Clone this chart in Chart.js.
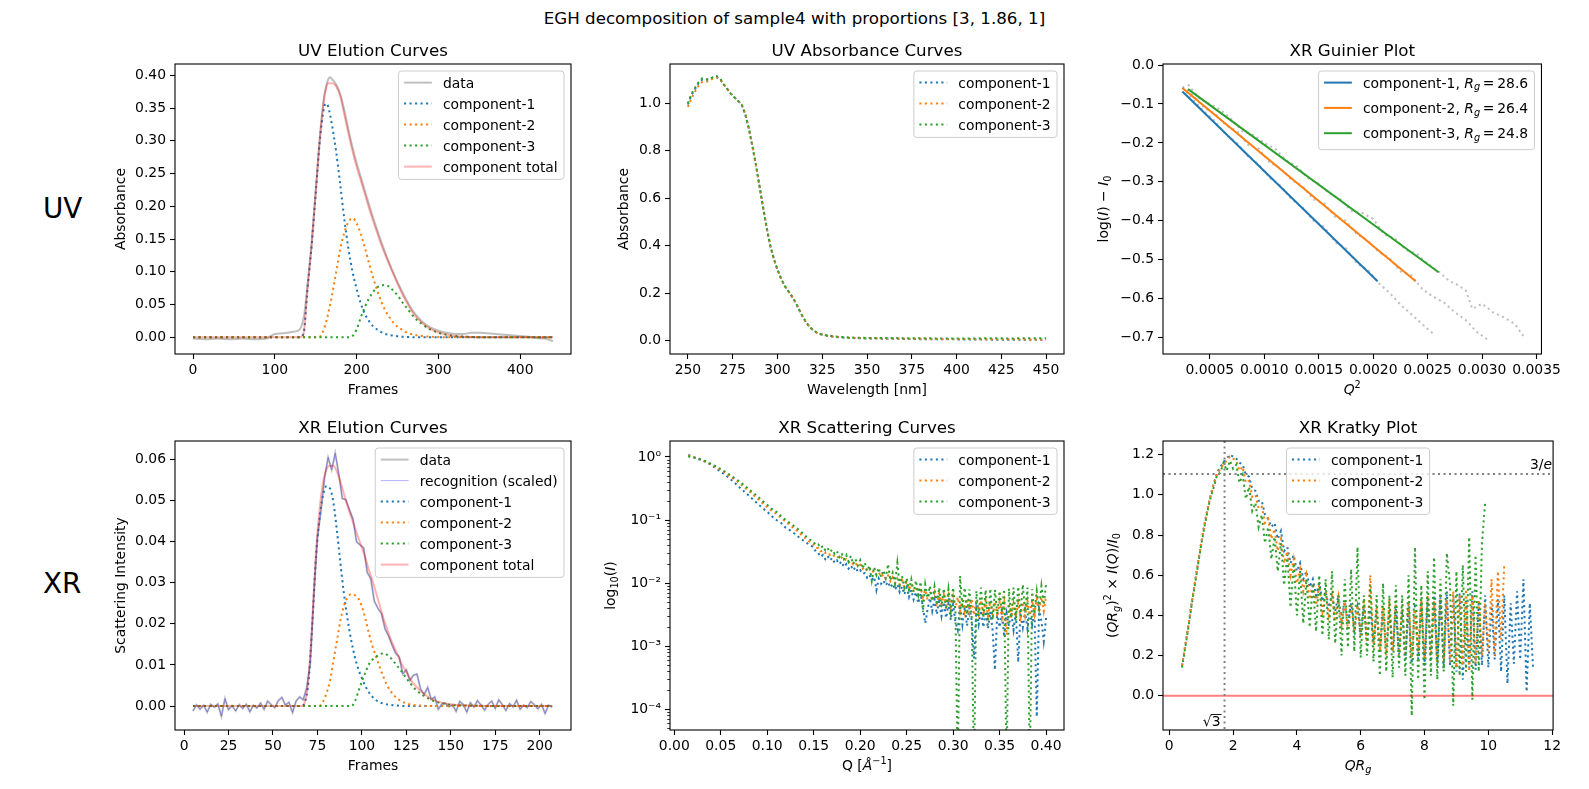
<!DOCTYPE html>
<html>
<head>
<meta charset="utf-8">
<script src="https://cdn.jsdelivr.net/npm/chart.js@4.4.1/dist/chart.umd.min.js"></script>
<style>
html, body { margin: 0; padding: 0; background: #fff; }
body { width: 1589px; height: 789px; position: relative; overflow: hidden; font-family: "DejaVu Sans"; }
canvas { position: absolute; }
.lbl { position: absolute; white-space: nowrap; color: #000; line-height: 1; }
</style>
</head>
<body>
<div class="lbl" style="left:0;width:1589px;text-align:center;top:10px;font-size:16.7px;">EGH decomposition of sample4 with proportions [3, 1.86, 1]</div>
<div class="lbl" style="left:43px;top:195px;font-size:27.8px;">UV</div>
<div class="lbl" style="left:43px;top:570px;font-size:27.8px;">XR</div>
<script>
// ---- UV elution (frames) ----
const uvFrames = [0, 20, 40, 60, 80, 100, 120, 130, 135, 140, 145, 150, 155, 160, 163, 165, 170, 175, 180, 185, 190, 195, 200, 205, 210, 215, 220, 225, 230, 235, 240, 245, 250, 255, 260, 270, 280, 290, 300, 310, 320, 340, 360, 380, 400, 420, 440];
const uvComp1 = [0, 0, 0, 0, 0, 0, 0, 0, 0.005, 0.075, 0.14, 0.22, 0.30, 0.35, 0.357, 0.353, 0.323, 0.283, 0.233, 0.18, 0.135, 0.10, 0.074, 0.052, 0.036, 0.025, 0.017, 0.012, 0.008, 0.005, 0.0035, 0.0025, 0.0015, 0.001, 0.0005, 0.0002, 0, 0, 0, 0, 0, 0, 0, 0, 0, 0, 0];
const uvComp2 = [0, 0, 0, 0, 0, 0, 0, 0, 0, 0, 0, 0, 0.001, 0.012, 0.025, 0.035, 0.065, 0.10, 0.135, 0.16, 0.176, 0.182, 0.174, 0.158, 0.137, 0.114, 0.092, 0.072, 0.055, 0.041, 0.031, 0.022, 0.016, 0.012, 0.008, 0.004, 0.002, 0.001, 0.0003, 0, 0, 0, 0, 0, 0, 0, 0];
const uvComp3 = [0, 0, 0, 0, 0, 0, 0, 0, 0, 0, 0, 0, 0, 0, 0, 0, 0, 0, 0, 0, 0, 0.002, 0.012, 0.03, 0.046, 0.059, 0.069, 0.076, 0.079, 0.08, 0.077, 0.071, 0.064, 0.055, 0.047, 0.031, 0.02, 0.012, 0.007, 0.004, 0.002, 0.0005, 0, 0, 0, 0, 0];
const uvTotal = [0, 0, 0, 0, 0, 0, 0, 0, 0.005, 0.075, 0.14, 0.22, 0.301, 0.362, 0.382, 0.388, 0.388, 0.383, 0.368, 0.34, 0.311, 0.284, 0.26, 0.24, 0.219, 0.198, 0.178, 0.16, 0.142, 0.126, 0.111, 0.096, 0.082, 0.068, 0.056, 0.035, 0.022, 0.013, 0.0073, 0.004, 0.002, 0.0005, 0, 0, 0, 0, 0];
const uvDataFrames = [0, 15, 30, 45, 60, 75, 90, 95, 100, 110, 120, 128, 132, 136, 140, 145, 150, 155, 160, 165, 168, 170, 175, 180, 185, 190, 195, 200, 205, 210, 215, 220, 225, 230, 235, 240, 245, 250, 260, 270, 280, 290, 300, 310, 320, 330, 340, 350, 360, 370, 380, 390, 400, 410, 420, 430, 440];
const uvData = [-0.002, -0.003, -0.002, -0.003, -0.002, -0.003, -0.002, 0.002, 0.005, 0.006, 0.008, 0.01, 0.015, 0.035, 0.08, 0.145, 0.225, 0.305, 0.365, 0.393, 0.397, 0.394, 0.386, 0.371, 0.346, 0.317, 0.29, 0.266, 0.245, 0.224, 0.203, 0.183, 0.164, 0.146, 0.129, 0.113, 0.098, 0.084, 0.059, 0.038, 0.024, 0.015, 0.01, 0.007, 0.005, 0.005, 0.007, 0.007, 0.006, 0.005, 0.004, 0.003, 0.002, 0.001, -0.001, -0.002, -0.006];
const uvElutionXTicks = [0, 100, 200, 300, 400];
const uvElutionXLabels = ['0', '100', '200', '300', '400'];
const uvElutionYTicks = [0, 0.05, 0.10, 0.15, 0.20, 0.25, 0.30, 0.35, 0.40];
const uvElutionYLabels = ['0.00', '0.05', '0.10', '0.15', '0.20', '0.25', '0.30', '0.35', '0.40'];

// ---- UV absorbance (wavelength) ----
const uvWavelengths = [250, 252, 254, 256, 258, 260, 262, 264, 266, 268, 270, 272, 274, 276, 278, 280, 282, 284, 286, 288, 290, 292, 294, 296, 298, 300, 302, 304, 306, 308, 310, 312, 314, 316, 318, 320, 322, 324, 326, 328, 330, 332, 334, 336, 338, 340, 350, 360, 370, 380, 390, 400, 410, 420, 430, 440, 450];
const absComp1 = [0.995, 1.035, 1.06, 1.085, 1.10, 1.10, 1.10, 1.11, 1.11, 1.10, 1.08, 1.06, 1.04, 1.025, 1.01, 0.995, 0.955, 0.895, 0.82, 0.74, 0.65, 0.56, 0.475, 0.40, 0.345, 0.30, 0.262, 0.232, 0.21, 0.188, 0.163, 0.133, 0.103, 0.078, 0.058, 0.044, 0.034, 0.028, 0.024, 0.021, 0.018, 0.016, 0.015, 0.014, 0.013, 0.012, 0.01, 0.009, 0.008, 0.007, 0.007, 0.006, 0.006, 0.005, 0.005, 0.005, 0.004];
const absComp2 = [0.985, 1.02, 1.05, 1.075, 1.09, 1.09, 1.095, 1.105, 1.11, 1.10, 1.08, 1.06, 1.04, 1.025, 1.01, 0.995, 0.955, 0.895, 0.82, 0.74, 0.65, 0.56, 0.475, 0.40, 0.345, 0.30, 0.262, 0.232, 0.21, 0.188, 0.163, 0.133, 0.103, 0.078, 0.058, 0.044, 0.034, 0.028, 0.024, 0.021, 0.019, 0.017, 0.016, 0.015, 0.014, 0.013, 0.011, 0.01, 0.009, 0.009, 0.008, 0.008, 0.007, 0.007, 0.007, 0.006, 0.006];
const absComp3 = [1.0, 1.04, 1.065, 1.09, 1.105, 1.10, 1.10, 1.11, 1.115, 1.105, 1.08, 1.06, 1.04, 1.025, 1.01, 0.995, 0.955, 0.895, 0.82, 0.74, 0.65, 0.56, 0.475, 0.40, 0.345, 0.30, 0.262, 0.232, 0.21, 0.188, 0.163, 0.133, 0.103, 0.078, 0.058, 0.045, 0.035, 0.029, 0.025, 0.022, 0.02, 0.018, 0.017, 0.016, 0.015, 0.014, 0.012, 0.012, 0.011, 0.011, 0.01, 0.01, 0.01, 0.011, 0.01, 0.011, 0.011];
const absXTicks = [250, 275, 300, 325, 350, 375, 400, 425, 450];
const absXLabels = ['250', '275', '300', '325', '350', '375', '400', '425', '450'];
const absYTicks = [0, 0.2, 0.4, 0.6, 0.8, 1.0];
const absYLabels = ['0.0', '0.2', '0.4', '0.6', '0.8', '1.0'];

// ---- XR Guinier (Q^2) ----
const guinierRg = [28.6, 26.4, 24.8];
const fitQ2_1 = [0.000248, 0.00204], fitLog_1 = [-0.068, -0.555];
const fitQ2_2 = [0.000248, 0.00239], fitLog_2 = [-0.059, -0.555];
const fitQ2_3 = [0.0003, 0.0026], fitLog_3 = [-0.062, -0.532];
const gQ2_1 = [0.00025, 0.00035, 0.00045, 0.00055, 0.00065, 0.00075, 0.00085, 0.00095, 0.00105, 0.00115, 0.00125, 0.00135, 0.00145, 0.00155, 0.00165, 0.00175, 0.00185, 0.00195, 0.00205, 0.00215, 0.00225, 0.00235, 0.00245, 0.00255];
const gLog_1 = [-0.058, -0.09, -0.12, -0.145, -0.18, -0.2, -0.235, -0.255, -0.29, -0.31, -0.345, -0.365, -0.4, -0.415, -0.455, -0.47, -0.51, -0.525, -0.56, -0.585, -0.615, -0.64, -0.665, -0.69];
const gQ2_2 = [0.00025, 0.00035, 0.00045, 0.00055, 0.00065, 0.00075, 0.00085, 0.00095, 0.00105, 0.00115, 0.00125, 0.00135, 0.00145, 0.00155, 0.00165, 0.00175, 0.00185, 0.00195, 0.00205, 0.00215, 0.00225, 0.00235, 0.00245, 0.00255, 0.00265, 0.00275, 0.00285, 0.00295, 0.00305];
const gLog_2 = [-0.055, -0.08, -0.11, -0.125, -0.155, -0.17, -0.205, -0.215, -0.25, -0.265, -0.295, -0.31, -0.345, -0.355, -0.39, -0.40, -0.435, -0.45, -0.48, -0.495, -0.53, -0.54, -0.575, -0.595, -0.61, -0.635, -0.655, -0.685, -0.705];
const gQ2_3 = [0.0003, 0.0004, 0.0005, 0.0006, 0.0007, 0.0008, 0.0009, 0.001, 0.0011, 0.0012, 0.0013, 0.0014, 0.0015, 0.0016, 0.0017, 0.0018, 0.0019, 0.002, 0.0021, 0.0022, 0.0023, 0.0024, 0.0025, 0.0026, 0.0027, 0.00276, 0.00285, 0.00291, 0.003, 0.0031, 0.0032, 0.0033, 0.00339];
const gLog_3 = [-0.05, -0.085, -0.1, -0.115, -0.14, -0.17, -0.18, -0.2, -0.215, -0.245, -0.26, -0.29, -0.305, -0.33, -0.345, -0.375, -0.38, -0.395, -0.435, -0.445, -0.475, -0.485, -0.51, -0.53, -0.555, -0.562, -0.579, -0.626, -0.613, -0.635, -0.648, -0.665, -0.70];
const guinierXTicks = [0.0005, 0.0010, 0.0015, 0.0020, 0.0025, 0.0030, 0.0035];
const guinierXLabels = ['0.0005', '0.0010', '0.0015', '0.0020', '0.0025', '0.0030', '0.0035'];
const guinierYTicks = [-0.7, -0.6, -0.5, -0.4, -0.3, -0.2, -0.1, 0.0];
const guinierYLabels = ['\u22120.7', '\u22120.6', '\u22120.5', '\u22120.4', '\u22120.3', '\u22120.2', '\u22120.1', '0.0'];

// ---- XR elution (frames) ----
const xrFrames = [5, 20, 40, 60, 66, 68, 70, 72, 74, 76, 78, 80, 82, 84, 86, 88, 90, 92, 94, 96, 98, 100, 102, 104, 106, 108, 110, 112, 114, 116, 118, 120, 122, 124, 126, 128, 130, 134, 138, 142, 146, 150, 160, 180, 207];
const xrComp1 = [0, 0, 0, 0, 0, 0.001, 0.006, 0.019, 0.035, 0.045, 0.051, 0.0535, 0.053, 0.0495, 0.0425, 0.0345, 0.027, 0.021, 0.016, 0.012, 0.009, 0.0068, 0.0048, 0.0033, 0.0022, 0.0014, 0.0009, 0.0006, 0.0004, 0.0003, 0.0002, 0.0001, 0, 0, 0, 0, 0, 0, 0, 0, 0, 0, 0, 0, 0];
const xrComp2 = [0, 0, 0, 0, 0, 0, 0, 0, 0, 0, 0.001, 0.003, 0.006, 0.011, 0.016, 0.021, 0.0245, 0.0265, 0.0272, 0.027, 0.0262, 0.0242, 0.0212, 0.0176, 0.0145, 0.012, 0.0095, 0.0072, 0.0052, 0.0037, 0.0026, 0.0018, 0.0012, 0.0008, 0.0005, 0.0003, 0.0002, 0.0001, 0, 0, 0, 0, 0, 0, 0];
const xrComp3 = [0, 0, 0, 0, 0, 0, 0, 0, 0, 0, 0, 0, 0, 0, 0, 0, 0, 0, 0, 0.001, 0.0035, 0.006, 0.0082, 0.0102, 0.0113, 0.012, 0.0126, 0.0128, 0.0125, 0.0118, 0.0108, 0.0097, 0.0086, 0.0074, 0.0062, 0.0051, 0.0041, 0.0027, 0.0017, 0.001, 0.0006, 0.0003, 0.0001, 0, 0];
const xrTotal = [0, 0, 0, 0, 0, 0.001, 0.007, 0.02, 0.036, 0.047, 0.054, 0.0575, 0.0585, 0.0585, 0.057, 0.0545, 0.0515, 0.0485, 0.046, 0.0435, 0.041, 0.0385, 0.036, 0.033, 0.0305, 0.0275, 0.0245, 0.0215, 0.019, 0.0165, 0.0145, 0.0125, 0.0105, 0.009, 0.0075, 0.006, 0.005, 0.0033, 0.002, 0.0012, 0.0007, 0.0004, 0.0001, 0, 0];
const xrDataFrames = [5, 7, 9, 11, 13, 15, 17, 19, 21, 23, 25, 27, 29, 31, 33, 35, 37, 39, 41, 43, 45, 47, 49, 51, 53, 55, 57, 59, 61, 63, 65, 67, 69, 71, 73, 75, 77, 79, 81, 83, 85, 87, 89, 91, 93, 95, 97, 99, 101, 103, 105, 107, 109, 111, 113, 115, 117, 119, 121, 123, 125, 127, 129, 131, 133, 135, 137, 139, 141, 143, 145, 147, 149, 151, 153, 155, 157, 159, 161, 163, 165, 167, 169, 171, 173, 175, 177, 179, 181, 183, 185, 187, 189, 191, 193, 195, 197, 199, 201, 203, 205, 207];
const xrData = [-0.0012, 0.0003, -0.0008, 0.0002, -0.0015, 0.0004, -0.0003, 0.0005, -0.0025, 0.0018,
  -0.0009, 0.0001, -0.0012, 0.0003, -0.0006, 0.0004, -0.0014, 0.0002, -0.0005, 0.0007,
  -0.0008, 0.0012, 0.0003, -0.0004, 0.0013, 0.0021, 0.0002, 0.0009, -0.0016, 0.0012,
  0.0022, 0.0015, 0.0045, 0.0105, 0.027, 0.041, 0.0475, 0.0555, 0.0605, 0.0575,
  0.0615, 0.0565, 0.0505, 0.0502, 0.0478, 0.0455, 0.040, 0.0392, 0.0385, 0.0325,
  0.031, 0.0255, 0.0238, 0.0225, 0.0188, 0.017, 0.0148, 0.0128, 0.012, 0.0078,
  0.0088, 0.0062, 0.0075, 0.0078, 0.0041, 0.0028, 0.0045, 0.0016, 0.0022, -0.0008,
  0.0005, 0.0007, -0.0002, 0.0003, -0.0013, 0.0011, 0.0004, -0.0015, 0.0008, -0.0003,
  0.0013, 0.0002, -0.001, 0.0004, 0.0012, -0.0006, 0.0015, 0.0003, -0.0011, 0.0006,
  -0.0002, 0.0014, -0.0008, 0.0002, -0.0004, 0.0011, 0.0003, -0.0007, 0.0004, -0.0018,
  0.0002, -0.0003];
const xrElutionXTicks = [0, 25, 50, 75, 100, 125, 150, 175, 200];
const xrElutionXLabels = ['0', '25', '50', '75', '100', '125', '150', '175', '200'];
const xrElutionYTicks = [0, 0.01, 0.02, 0.03, 0.04, 0.05, 0.06];
const xrElutionYLabels = ['0.00', '0.01', '0.02', '0.03', '0.04', '0.05', '0.06'];

// ---- XR scattering (Q) ----
const scatQ = [0.015, 0.02, 0.025, 0.03, 0.035, 0.04, 0.045, 0.05, 0.055, 0.06, 0.065, 0.07, 0.075, 0.08, 0.085, 0.09, 0.095, 0.1,
  0.105, 0.11, 0.115, 0.12, 0.125, 0.13, 0.135, 0.14, 0.145,
  0.15, 0.1525, 0.155, 0.1575, 0.16, 0.1625, 0.165, 0.1675, 0.17, 0.1725,
  0.175, 0.1775, 0.18, 0.1825, 0.185, 0.1875, 0.19, 0.1925, 0.195, 0.1975,
  0.2, 0.2025, 0.205, 0.2075, 0.21, 0.2125, 0.215, 0.2175, 0.22, 0.2225,
  0.225, 0.2275, 0.23, 0.2325, 0.235, 0.2375, 0.24, 0.2425, 0.245, 0.2475,
  0.25, 0.2525, 0.255, 0.2575, 0.26, 0.2625, 0.265, 0.2675, 0.27, 0.2725,
  0.275, 0.2775, 0.28, 0.2825, 0.285, 0.2875, 0.29, 0.2925, 0.295, 0.2975,
  0.3, 0.3025, 0.305, 0.3075, 0.31, 0.3125, 0.315, 0.3175, 0.32, 0.3225,
  0.325, 0.3275, 0.33, 0.3325, 0.335, 0.3375, 0.34, 0.3425, 0.345, 0.3475,
  0.35, 0.3525, 0.355, 0.3575, 0.36, 0.3625, 0.365, 0.3675, 0.37, 0.3725,
  0.375, 0.3775, 0.38, 0.3825, 0.385, 0.3875, 0.39, 0.3925, 0.395, 0.3975,
  0.4];
const scatI_1 = [1.08, 1.0, 0.94, 0.88, 0.82, 0.74, 0.66, 0.58, 0.52, 0.45, 0.39, 0.33, 0.285, 0.245, 0.21, 0.18, 0.155, 0.135,
  0.115, 0.1, 0.09, 0.075, 0.068, 0.06, 0.052, 0.046, 0.041,
  0.037, 0.031, 0.030, 0.026, 0.028, 0.024, 0.027, 0.023, 0.025, 0.021,
  0.023, 0.020, 0.022, 0.018, 0.020, 0.017, 0.019, 0.016, 0.018, 0.015,
  0.016, 0.014, 0.0145, 0.0122, 0.0135, 0.0112, 0.0125, 0.0078, 0.0118, 0.0098,
  0.011, 0.0092, 0.0105, 0.0085, 0.0098, 0.0078, 0.0095, 0.0072, 0.0088, 0.0066,
  0.0085, 0.006, 0.0078, 0.0055, 0.0072, 0.0048, 0.0068, 0.0042, 0.0023, 0.0038,
  0.0058, 0.0036, 0.0055, 0.0032, 0.0052, 0.0030, 0.005, 0.0028, 0.0048, 0.0026,
  0.0046, 0.0024, 0.0018, 0.0045, 0.0022, 0.0042, 0.0021, 0.0040, 0.0026, 0.00064,
  0.0038, 0.0022, 0.0037, 0.0020, 0.0036, 0.0019, 0.0035, 0.0018, 0.00042, 0.0034,
  0.0020, 0.0034, 0.0014, 0.0033, 0.0021, 0.0034, 0.0018, 0.0035, 0.00056, 0.0034,
  0.0020, 0.0036, 0.0019, 0.0037, 0.0022, 0.0038, 0.000076, 0.0039, 0.0025, 0.0012,
  0.0028];
const scatI_2 = [1.05, 1.0, 0.95, 0.89, 0.83, 0.76, 0.69, 0.62, 0.56, 0.50, 0.44, 0.385, 0.335, 0.29, 0.25, 0.215, 0.185, 0.16,
  0.14, 0.125, 0.108, 0.094, 0.082, 0.072, 0.062, 0.053, 0.046,
  0.041, 0.036, 0.036, 0.032, 0.033, 0.030, 0.031, 0.028, 0.029, 0.026,
  0.027, 0.024, 0.0255, 0.0228, 0.024, 0.0212, 0.0225, 0.0198, 0.021, 0.0183,
  0.0195, 0.0168, 0.018, 0.0155, 0.0168, 0.0146, 0.0158, 0.0136, 0.0148, 0.0126,
  0.0138, 0.0116, 0.0132, 0.0108, 0.0124, 0.0101, 0.0118, 0.0095, 0.0111, 0.0087,
  0.0104, 0.0079, 0.0097, 0.0072, 0.0090, 0.0066, 0.0084, 0.0060, 0.0078, 0.0055,
  0.0074, 0.0052, 0.0071, 0.0048, 0.0069, 0.0046, 0.0066, 0.0044, 0.0064, 0.0042,
  0.0062, 0.0040, 0.0060, 0.0036, 0.0059, 0.0035, 0.0057, 0.0034, 0.0056, 0.0031,
  0.0055, 0.0033, 0.0054, 0.0031, 0.0053, 0.0030, 0.0052, 0.0029, 0.0051, 0.0029,
  0.0050, 0.0028, 0.0049, 0.0015, 0.0048, 0.0028, 0.0048, 0.0029, 0.0049, 0.0029,
  0.0050, 0.0030, 0.0052, 0.0031, 0.0054, 0.0032, 0.0057, 0.0034, 0.0060, 0.0036,
  0.0062];
const scatI_3 = [1.02, 0.99, 0.95, 0.9, 0.84, 0.77, 0.71, 0.64, 0.58, 0.52, 0.46, 0.41, 0.36, 0.31, 0.27, 0.235, 0.2, 0.175,
  0.15, 0.135, 0.115, 0.1, 0.088, 0.078, 0.068, 0.058, 0.05,
  0.045, 0.040, 0.041, 0.036, 0.039, 0.033, 0.036, 0.031, 0.034, 0.029,
  0.032, 0.026, 0.030, 0.024, 0.028, 0.022, 0.027, 0.020, 0.024, 0.019,
  0.023, 0.017, 0.021, 0.0155, 0.019, 0.011, 0.018, 0.0135, 0.0175, 0.0125,
  0.016, 0.012, 0.020, 0.011, 0.0145, 0.0098, 0.021, 0.0092, 0.013, 0.0085,
  0.012, 0.0078, 0.0115, 0.0072, 0.011, 0.0065, 0.0105, 0.0035, 0.0095, 0.0058,
  0.009, 0.0052, 0.0088, 0.0045, 0.0085, 0.0042, 0.0082, 0.0038, 0.0080, 0.0036,
  0.0085, 0.0035, 0.00001, 0.013, 0.0040, 0.0085, 0.0032, 0.0080, 0.0028, 0.00001,
  0.0075, 0.0030, 0.0085, 0.0028, 0.0078, 0.0022, 0.0082, 0.0026, 0.0078, 0.0032,
  0.0075, 0.0035, 0.0080, 0.00001, 0.0082, 0.0028, 0.0085, 0.0025, 0.0088, 0.0030,
  0.0095, 0.0035, 0.0085, 0.00001, 0.0080, 0.0032, 0.0075, 0.0040, 0.0090, 0.0045,
  0.0098];
const scatXTicks = [0, 0.05, 0.10, 0.15, 0.20, 0.25, 0.30, 0.35, 0.40];
const scatXLabels = ['0.00', '0.05', '0.10', '0.15', '0.20', '0.25', '0.30', '0.35', '0.40'];
const scatYTicks = [1e-4, 1e-3, 1e-2, 1e-1, 1];
const scatYLabels = ['10\u207B\u2074', '10\u207B\u00B3', '10\u207B\u00B2', '10\u207B\u00B9', '10\u2070'];

// ---- XR Kratky (QRg) ----
const kratkyQRg = [0.4, 0.5, 0.6, 0.7, 0.8, 0.9, 1.0, 1.1, 1.2, 1.3, 1.4, 1.5, 1.6, 1.7, 1.8, 1.9,
  2.0, 2.1, 2.2, 2.3, 2.4, 2.5, 2.6, 2.7, 2.8, 2.9, 3.0, 3.1, 3.2, 3.3, 3.4, 3.5, 3.6, 3.7, 3.8, 3.9,
  4.0, 4.1, 4.2, 4.3, 4.4, 4.5, 4.6, 4.7, 4.8, 4.9, 5.0, 5.1, 5.2, 5.3, 5.4, 5.5, 5.6, 5.7, 5.8, 5.9,
  6.0, 6.1, 6.2, 6.3, 6.4, 6.5, 6.6, 6.7, 6.8, 6.9, 7.0, 7.1, 7.2, 7.3, 7.4, 7.5, 7.6, 7.7, 7.8, 7.9,
  8.0, 8.1, 8.2, 8.3, 8.4, 8.5, 8.6, 8.7, 8.8, 8.9, 9.0, 9.1, 9.2, 9.3, 9.4, 9.5, 9.6, 9.7, 9.8, 9.9,
  10.0, 10.1, 10.2, 10.3, 10.4, 10.5, 10.6, 10.7, 10.8, 10.9, 11.0, 11.1, 11.2, 11.3, 11.4];
const kratky_1 = [0.15, 0.25, 0.35, 0.46, 0.56, 0.66, 0.76, 0.85, 0.93, 1.00, 1.06, 1.11, 1.14, 1.16, 1.18, 1.20,
  1.19, 1.18, 1.16, 1.15, 1.10, 1.09, 1.03, 1.02, 0.97, 0.97, 0.90, 0.88, 0.84, 0.86, 0.78, 0.82, 0.72, 0.74, 0.66, 0.70,
  0.62, 0.66, 0.58, 0.62, 0.54, 0.58, 0.50, 0.56, 0.47, 0.52, 0.44, 0.50, 0.42, 0.50, 0.38, 0.47, 0.36, 0.46, 0.33, 0.44,
  0.30, 0.45, 0.28, 0.43, 0.27, 0.42, 0.25, 0.40, 0.24, 0.42, 0.22, 0.44, 0.20, 0.42, 0.18, 0.45, 0.16, 0.46, 0.18, 0.47,
  0.15, 0.48, 0.17, 0.50, 0.16, 0.49, 0.14, 0.52, 0.15, 0.50, 0.12, 0.51, 0.08, 0.48, 0.14, 0.52, 0.13, 0.47, 0.15, 0.50,
  0.14, 0.46, 0.18, 0.48, 0.12, 0.50, 0.06, 0.46, 0.16, 0.52, 0.18, 0.58, 0.02, 0.46, 0.14];
const kratky_2 = [0.15, 0.25, 0.35, 0.46, 0.56, 0.66, 0.76, 0.85, 0.93, 1.00, 1.06, 1.10, 1.13, 1.15, 1.17, 1.19,
  1.18, 1.17, 1.12, 1.14, 1.06, 1.07, 0.99, 1.00, 0.93, 0.94, 0.86, 0.88, 0.78, 0.83, 0.72, 0.78, 0.66, 0.72, 0.60, 0.68,
  0.56, 0.63, 0.52, 0.60, 0.48, 0.56, 0.45, 0.55, 0.42, 0.52, 0.40, 0.50, 0.37, 0.49, 0.35, 0.47, 0.33, 0.46, 0.32, 0.45,
  0.30, 0.48, 0.25, 0.60, 0.24, 0.44, 0.22, 0.45, 0.20, 0.48, 0.22, 0.46, 0.20, 0.45, 0.21, 0.47, 0.19, 0.43, 0.22, 0.48,
  0.18, 0.50, 0.20, 0.47, 0.16, 0.50, 0.18, 0.48, 0.17, 0.52, 0.14, 0.50, 0.15, 0.53, 0.12, 0.50, 0.16, 0.48, 0.20, 0.46,
  0.22, 0.58, 0.20, 0.62, 0.28, 0.66];
const kratky_3 = [0.14, 0.24, 0.34, 0.45, 0.55, 0.65, 0.75, 0.84, 0.92, 0.99, 1.04, 1.10, 1.11, 1.16, 1.12, 1.17,
  1.13, 1.15, 1.06, 1.10, 0.98, 1.04, 0.92, 0.96, 0.84, 0.90, 0.76, 0.84, 0.68, 0.79, 0.62, 0.76, 0.55, 0.70, 0.44, 0.66,
  0.40, 0.62, 0.36, 0.58, 0.34, 0.56, 0.32, 0.60, 0.30, 0.58, 0.28, 0.62, 0.26, 0.50, 0.20, 0.58, 0.24, 0.63, 0.22, 0.74,
  0.19, 0.50, 0.20, 0.55, 0.17, 0.50, 0.10, 0.56, 0.12, 0.50, 0.09, 0.55, 0.14, 0.50, 0.10, 0.60, -0.10, 0.74, 0.08, 0.55,
  -0.02, 0.62, 0.10, 0.69, 0.08, 0.58, 0.12, 0.71, 0.55, -0.05, 0.62, 0.10, 0.65, 0.12, 0.79, -0.02, 0.70, 0.12, 0.76, 0.96];
const kratkyXTicks = [0, 2, 4, 6, 8, 10, 12];
const kratkyXLabels = ['0', '2', '4', '6', '8', '10', '12'];
const kratkyYTicks = [0, 0.2, 0.4, 0.6, 0.8, 1.0, 1.2];
const kratkyYLabels = ['0.0', '0.2', '0.4', '0.6', '0.8', '1.0', '1.2'];
const kratkyPeakX = Math.sqrt(3);
const kratkyPeakY = 3 / Math.E;

// ---------------------------------------------------------------
const C1 = '#1f77b4', C2 = '#ff7f0e', C3 = '#2ca02c';
const GRAY = 'rgba(128,128,128,0.5)', TOTAL = 'rgba(255,0,0,0.3)', RECOG = 'rgba(0,0,255,0.3)';
const DOT = [2.1, 3.4];
const FS = 13.9;
const FONT = '"DejaVu Sans"';

Chart.defaults.font.family = FONT;
Chart.defaults.font.size = FS;
Chart.defaults.color = '#000';

function segFont(style, size) {
  const it = style && style.indexOf('i') >= 0;
  const small = style && (style.indexOf('sub') >= 0 || style.indexOf('sup') >= 0);
  return (it ? 'italic ' : '') + (small ? size * 0.7 : size) + 'px ' + FONT;
}
function richWidth(ctx, segs, size) {
  let w = 0;
  segs.forEach(s => { ctx.font = segFont(s[1], size); w += ctx.measureText(s[0]).width; });
  return w;
}
function drawRich(ctx, segs, x, y, size, align) {
  const w = richWidth(ctx, segs, size);
  let cx = align === 'center' ? x - w / 2 : align === 'right' ? x - w : x;
  ctx.textAlign = 'left';
  ctx.textBaseline = 'alphabetic';
  segs.forEach(s => {
    const st = s[1] || '';
    const dy = st.indexOf('sub') >= 0 ? 0.2 * size : st.indexOf('sup') >= 0 ? -0.4 * size : 0;
    ctx.font = segFont(st, size);
    ctx.fillText(s[0], cx, y + dy);
    cx += ctx.measureText(s[0]).width;
  });
  return w;
}

function drawLegend(ctx, a, leg) {
  ctx.save();
  const labels = leg.items.map(it => typeof it.label === 'string' ? [[it.label]] : it.label);
  const tw = Math.max(...labels.map(l => richWidth(ctx, l, FS)));
  const w = 44.4 + tw + 6.3;
  const n = leg.items.length;
  const row = leg.row || 21;
  const h = 11.6 + (n - 1) * row + (leg.last || 12.8);
  const x = leg.loc === 'center' ? (a.left + a.right) / 2 - w / 2 : a.right - 7 - w;
  const y = a.top + 7;
  ctx.beginPath();
  ctx.roundRect(x, y, w, h, 3);
  ctx.fillStyle = 'rgba(255,255,255,0.8)';
  ctx.fill();
  ctx.strokeStyle = '#cccccc';
  ctx.lineWidth = 1;
  ctx.stroke();
  leg.items.forEach((it, i) => {
    const cy = y + 11.6 + i * row;
    ctx.save();
    ctx.strokeStyle = it.color;
    ctx.lineWidth = it.width;
    ctx.setLineDash(it.dash || []);
    ctx.beginPath();
    ctx.moveTo(x + 5.5, cy);
    ctx.lineTo(x + 33.3, cy);
    ctx.stroke();
    ctx.restore();
    ctx.fillStyle = '#000';
    drawRich(ctx, labels[i], x + 44.4, cy + 5, FS, 'left');
  });
  ctx.restore();
}

function series(xs, ys, color, width, dash, smooth) {
  return {
    data: ys.map((y, i) => ({ x: xs[i], y: y })),
    borderColor: color, borderWidth: width, borderDash: dash || [],
    pointRadius: 0, fill: false, tension: 0, clip: 0,
    cubicInterpolationMode: smooth ? 'monotone' : 'default'
  };
}

function axis(s, horiz) {
  return {
    type: s.type || 'linear',
    position: horiz ? 'bottom' : 'left',
    min: s.min, max: s.max,
    afterBuildTicks: sc => { sc.ticks = s.ticks.map(v => ({ value: v })); },
    afterFit: sc => { if (horiz) sc.height = 30; else sc.width = 60; },
    ticks: {
      autoSkip: false, maxRotation: 0, minRotation: 0, padding: horiz ? 3 : 4, color: '#000',
      font: { family: FONT, size: FS },
      callback: (v, i) => s.labels[i]
    },
    grid: { display: true, drawOnChartArea: false, drawTicks: true, tickLength: 5, tickWidth: 1.1, tickColor: '#000' },
    border: { display: false },
    title: { display: false }
  };
}

function makePanel(rect, spec) {
  const W = rect.r - rect.l + 110, H = rect.b - rect.t + 90;
  const cv = document.createElement('canvas');
  cv.width = W; cv.height = H;
  cv.style.left = (rect.l - 100) + 'px';
  cv.style.top = (rect.t - 40) + 'px';
  cv.style.width = W + 'px';
  cv.style.height = H + 'px';
  document.body.appendChild(cv);
  const n = spec.datasets.length;
  spec.datasets.forEach((d, i) => { d.order = n - i; });
  new Chart(cv, {
    type: 'line',
    data: { datasets: spec.datasets },
    options: {
      responsive: false, animation: false, devicePixelRatio: 1,
      layout: { padding: { left: 40, top: 40, right: 10, bottom: 20 } },
      plugins: { legend: { display: false }, tooltip: { enabled: false }, title: { display: false } },
      scales: { x: axis(spec.x, true), y: axis(spec.y, false) }
    },
    plugins: [{
      id: 'decor',
      afterDatasetsDraw(chart) { if (spec.extras) spec.extras(chart); },
      afterDraw(chart) {
        const ctx = chart.ctx, a = chart.chartArea;
        ctx.save();
        ctx.strokeStyle = '#000'; ctx.lineWidth = 1.1; ctx.setLineDash([]);
        ctx.strokeRect(a.left, a.top, a.right - a.left, a.bottom - a.top);
        ctx.fillStyle = '#000';
        drawRich(ctx, [[spec.title]], (a.left + a.right) / 2, a.top - 8.5, 16.7, 'center');
        drawRich(ctx, spec.xTitle, (a.left + a.right) / 2, a.bottom + 40, FS, 'center');
        ctx.translate(a.left - spec.yOff, (a.top + a.bottom) / 2);
        ctx.rotate(-Math.PI / 2);
        drawRich(ctx, spec.yTitle, 0, 0, FS, 'center');
        ctx.restore();
        drawLegend(ctx, a, spec.legend);
      }
    }]
  });
}

const compLegend = [
  { label: 'component-1', color: C1, width: 2, dash: DOT },
  { label: 'component-2', color: C2, width: 2, dash: DOT },
  { label: 'component-3', color: C3, width: 2, dash: DOT }
];

// UV Elution Curves
makePanel({ l: 175, t: 64, r: 571, b: 354 }, {
  title: 'UV Elution Curves', xTitle: [['Frames']], yTitle: [['Absorbance']], yOff: 50,
  x: { min: -22, max: 462, ticks: uvElutionXTicks, labels: uvElutionXLabels },
  y: { min: -0.0255, max: 0.4173, ticks: uvElutionYTicks, labels: uvElutionYLabels },
  datasets: [
    series(uvDataFrames, uvData, GRAY, 2, null, true),
    series(uvFrames, uvComp1, C1, 2, DOT, true),
    series(uvFrames, uvComp2, C2, 2, DOT, true),
    series(uvFrames, uvComp3, C3, 2, DOT, true),
    series(uvFrames, uvTotal, TOTAL, 2, null, true)
  ],
  legend: { loc: 'right', items: [
    { label: 'data', color: GRAY, width: 2 },
    ...compLegend,
    { label: 'component total', color: TOTAL, width: 2 }
  ] }
});

// UV Absorbance Curves
makePanel({ l: 670, t: 64, r: 1064, b: 354 }, {
  title: 'UV Absorbance Curves', xTitle: [['Wavelength [nm]']], yTitle: [['Absorbance']], yOff: 42,
  x: { min: 240, max: 460, ticks: absXTicks, labels: absXLabels },
  y: { min: -0.0555, max: 1.1655, ticks: absYTicks, labels: absYLabels },
  datasets: [
    series(uvWavelengths, absComp1, C1, 2, DOT, false),
    series(uvWavelengths, absComp2, C2, 2, DOT, false),
    series(uvWavelengths, absComp3, C3, 2, DOT, false)
  ],
  legend: { loc: 'right', items: compLegend }
});

// XR Guinier Plot
makePanel({ l: 1163, t: 64, r: 1554, b: 354 }, {
  title: 'XR Guinier Plot', xTitle: [['Q', 'i'], ['2', 'sup']],
  yTitle: [['log('], ['I', 'i'], [') \u2212 '], ['I', 'i'], ['0', 'sub']], yOff: 55,
  x: { min: 0.00007, max: 0.003545, ticks: guinierXTicks, labels: guinierXLabels },
  y: { min: -0.742, max: 0.0026, ticks: guinierYTicks, labels: guinierYLabels },
  datasets: [
    series(gQ2_1, gLog_1, GRAY, 2, DOT, false),
    series(gQ2_2, gLog_2, GRAY, 2, DOT, false),
    series(gQ2_3, gLog_3, GRAY, 2, DOT, false),
    series(fitQ2_1, fitLog_1, C1, 2, null, false),
    series(fitQ2_2, fitLog_2, C2, 2, null, false),
    series(fitQ2_3, fitLog_3, C3, 2, null, false)
  ],
  legend: { loc: 'right', row: 25.3, last: 16.5, items: [C1, C2, C3].map((c, i) => ({
    label: [['component-' + (i + 1) + ', '], ['R', 'i'], ['g', 'isub'], ['\u2009=\u2009' + guinierRg[i]]],
    color: c, width: 2
  })) }
});

// XR Elution Curves
makePanel({ l: 175, t: 441, r: 571, b: 730 }, {
  title: 'XR Elution Curves', xTitle: [['Frames']], yTitle: [['Scattering Intensity']], yOff: 50,
  x: { min: -5.1, max: 217.6, ticks: xrElutionXTicks, labels: xrElutionXLabels },
  y: { min: -0.00584, max: 0.0645, ticks: xrElutionYTicks, labels: xrElutionYLabels },
  datasets: [
    series(xrDataFrames, xrData, GRAY, 2, null, false),
    series(xrDataFrames, xrData, RECOG, 1, null, false),
    series(xrFrames, xrComp1, C1, 2, DOT, true),
    series(xrFrames, xrComp2, C2, 2, DOT, true),
    series(xrFrames, xrComp3, C3, 2, DOT, true),
    series(xrFrames, xrTotal, TOTAL, 2, null, true)
  ],
  legend: { loc: 'right', items: [
    { label: 'data', color: GRAY, width: 2 },
    { label: 'recognition (scaled)', color: RECOG, width: 1 },
    ...compLegend,
    { label: 'component total', color: TOTAL, width: 2 }
  ] }
});

// XR Scattering Curves
makePanel({ l: 670, t: 441, r: 1064, b: 730 }, {
  title: 'XR Scattering Curves', xTitle: [['Q ['], ['\u00C5', 'i'], ['\u22121', 'sup'], [']']],
  yTitle: [['log'], ['10', 'sub'], ['('], ['I', 'i'], [')']], yOff: 55,
  x: { min: -0.0046, max: 0.4193, ticks: scatXTicks, labels: scatXLabels },
  y: { type: 'logarithmic', min: 4.7e-5, max: 1.79, ticks: scatYTicks, labels: scatYLabels },
  datasets: [
    series(scatQ, scatI_1, C1, 2, DOT, false),
    series(scatQ, scatI_2, C2, 2, DOT, false),
    series(scatQ, scatI_3, C3, 2, DOT, false)
  ],
  legend: { loc: 'right', items: compLegend },
  extras(chart) {
    // minor ticks of the log axis
    const ctx = chart.ctx, a = chart.chartArea, ys = chart.scales.y;
    ctx.save();
    ctx.strokeStyle = '#000'; ctx.lineWidth = 0.8;
    for (let d = -5; d <= 0; d++) {
      for (let k = 2; k <= 9; k++) {
        const v = k * Math.pow(10, d);
        if (v < ys.min || v > ys.max) continue;
        const py = Math.round(ys.getPixelForValue(v)) + 0.5;
        ctx.beginPath(); ctx.moveTo(a.left, py); ctx.lineTo(a.left - 2.8, py); ctx.stroke();
      }
    }
    ctx.restore();
  }
});

// XR Kratky Plot
makePanel({ l: 1163, t: 441, r: 1554, b: 730 }, {
  title: 'XR Kratky Plot', xTitle: [['QR', 'i'], ['g', 'isub']],
  yTitle: [['('], ['QR', 'i'], ['g', 'isub'], [')'], ['2', 'sup'], [' \u00D7 '], ['I', 'i'], ['('], ['Q', 'i'], [')/'], ['I', 'i'], ['0', 'sub']], yOff: 46,
  x: { min: -0.197, max: 12.03, ticks: kratkyXTicks, labels: kratkyXLabels },
  y: { min: -0.1706, max: 1.268, ticks: kratkyYTicks, labels: kratkyYLabels },
  datasets: [
    series(kratkyQRg, kratky_1, C1, 2, DOT, false),
    series(kratkyQRg, kratky_2, C2, 2, DOT, false),
    series(kratkyQRg, kratky_3, C3, 2, DOT, false)
  ],
  legend: { loc: 'center', items: compLegend },
  extras(chart) {
    const ctx = chart.ctx, a = chart.chartArea, xs = chart.scales.x, ys = chart.scales.y;
    ctx.save();
    ctx.beginPath(); ctx.rect(a.left, a.top, a.right - a.left, a.bottom - a.top); ctx.clip();
    const y0 = ys.getPixelForValue(0);
    ctx.strokeStyle = 'rgba(255,0,0,0.5)'; ctx.lineWidth = 2;
    ctx.beginPath(); ctx.moveTo(a.left, y0); ctx.lineTo(a.right, y0); ctx.stroke();
    const yk = ys.getPixelForValue(kratkyPeakY), xk = xs.getPixelForValue(kratkyPeakX);
    ctx.strokeStyle = 'gray'; ctx.lineWidth = 2; ctx.setLineDash(DOT);
    ctx.beginPath(); ctx.moveTo(a.left, yk); ctx.lineTo(a.right, yk); ctx.stroke();
    ctx.beginPath(); ctx.moveTo(xk, a.top); ctx.lineTo(xk, a.bottom); ctx.stroke();
    ctx.restore();
    ctx.save();
    ctx.fillStyle = '#000';
    drawRich(ctx, [['3/'], ['e', 'i']], a.right - 1, yk - 5, FS, 'right');
    drawRich(ctx, [['\u221A3']], xk - 4, a.bottom - 4, FS, 'right');
    ctx.font = FS + 'px ' + FONT;
    const w3only = ctx.measureText('3').width;
    ctx.strokeStyle = '#000'; ctx.lineWidth = 0.9;
    ctx.beginPath(); ctx.moveTo(xk - 4 - w3only - 1, a.bottom - 15.5); ctx.lineTo(xk - 3, a.bottom - 15.5); ctx.stroke();
    ctx.restore();
  }
});
</script>
</body>
</html>
